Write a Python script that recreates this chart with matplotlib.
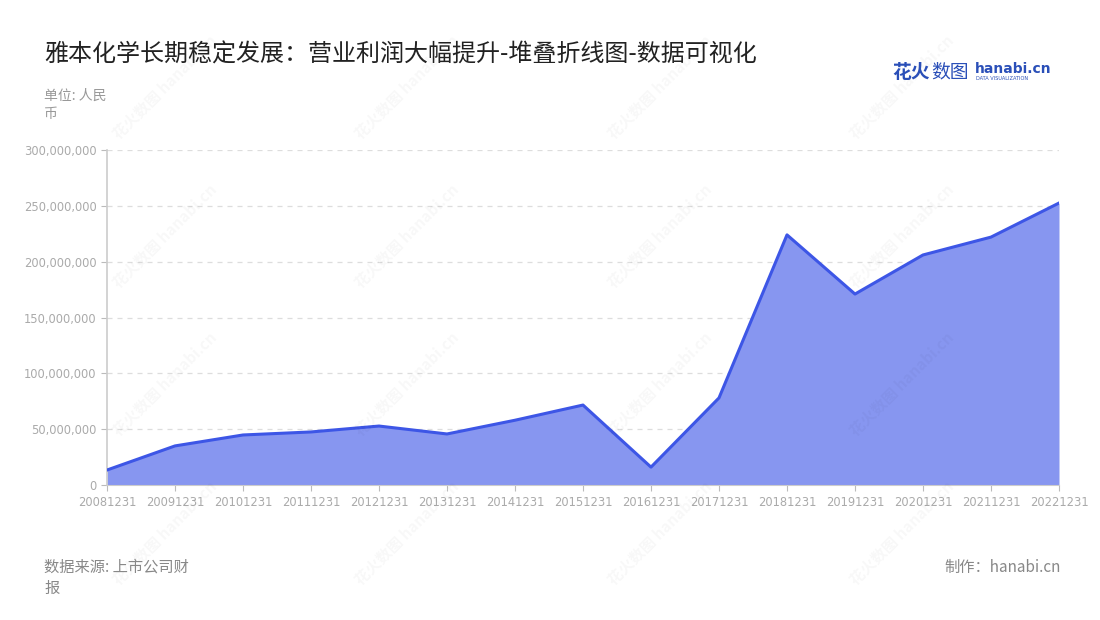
import matplotlib
matplotlib.use("Agg")
import matplotlib.pyplot as plt
from matplotlib.ticker import FuncFormatter

plt.rcParams['font.family'] = ['Noto Sans CJK SC', 'DejaVu Sans']

# -------------------------
# Data
# -------------------------
dates = ["20081231", "20091231", "20101231", "20111231", "20121231",
         "20131231", "20141231", "20151231", "20161231", "20171231",
         "20181231", "20191231", "20201231", "20211231", "20221231"]
profit = [13.4e6, 35.0e6, 44.8e6, 47.5e6, 52.8e6,
          45.7e6, 58.0e6, 71.6e6, 16.0e6, 78.0e6,
          224.0e6, 171.0e6, 206.0e6, 222.0e6, 252.5e6]
yticks = [0, 50e6, 100e6, 150e6, 200e6, 250e6, 300e6]

LINE = "#3d56e6"
FILL = "#8796f0"
GRAY = "#999999"

fig = plt.figure(figsize=(11, 6.2), dpi=100)
ax = fig.add_axes([107 / 1100, 1 - 485 / 620, (1059 - 107) / 1100, (485 - 150) / 620])

x = list(range(len(dates)))
ax.fill_between(x, profit, 0, color=FILL, lw=0, zorder=2)
ax.plot(x, profit, color=LINE, lw=2.2, zorder=3)

ax.set_xlim(0, len(dates) - 1)
ax.set_ylim(0, 300e6)
ax.set_xticks(x)
ax.set_xticklabels(dates, family="DejaVu Sans")
ax.set_yticks(yticks)
ax.yaxis.set_major_formatter(FuncFormatter(lambda v, p: f"{int(v):,}"))
ax.tick_params(axis="both", colors="#bbbbbb", labelcolor="#aaaaaa", labelsize=8.3, length=4)
for lab in ax.get_yticklabels():
    lab.set_family("DejaVu Sans")
ax.tick_params(axis="x", pad=4)
ax.grid(axis="y", color="#dddddd", ls=(0, (4, 4)), lw=0.9, zorder=0)
for s in ["top", "right"]:
    ax.spines[s].set_visible(False)
ax.spines["left"].set_color("#cccccc")
ax.spines["bottom"].set_color("#cccccc")
ax.spines["left"].set_linewidth(1.2)

# watermarks
for wx in [0.15, 0.37, 0.60, 0.82]:
    for wy in [0.86, 0.62, 0.38, 0.14]:
        fig.text(wx, wy, "花火数图 hanabi.cn", fontsize=11, color="#000000", alpha=0.03,
                 rotation=45, ha="center", va="center", fontweight="bold")

fig.text(44 / 1100, 1 - 55 / 620, "雅本化学长期稳定发展：营业利润大幅提升-堆叠折线图-数据可视化",
         fontsize=17.3, color="#222222", va="center", ha="left")
fig.text(44 / 1100, 1 - 96 / 620, "单位: 人民", fontsize=10, color=GRAY, va="center")
fig.text(44 / 1100, 1 - 114 / 620, "币", fontsize=10, color=GRAY, va="center")
fig.text(44 / 1100, 1 - 567 / 620, "数据来源: 上市公司财", fontsize=11, color="#888888", va="center")
fig.text(44 / 1100, 1 - 588 / 620, "报", fontsize=11, color="#888888", va="center")
fig.text(1061 / 1100, 1 - 567 / 620, "制作：hanabi.cn", fontsize=11, color="#888888",
         va="center", ha="right")

# logo
fig.text(892 / 1100, 1 - 72 / 620, "花火", fontsize=13.5, color="#2a4fb8", fontweight="bold", va="center")
fig.text(931 / 1100, 1 - 72 / 620, "数图", fontsize=13.5, color="#2a4fb8", va="center")
fig.text(975 / 1100, 1 - 69 / 620, "hanabi.cn", fontsize=10, color="#2a4fb8",
         fontweight="bold", va="center", family="DejaVu Sans")
fig.text(976 / 1100, 1 - 79 / 620, "DATA VISUALIZATION", fontsize=3.6, color="#2a4fb8", va="center",
         family="DejaVu Sans")

fig.savefig("out.png", dpi=100)
